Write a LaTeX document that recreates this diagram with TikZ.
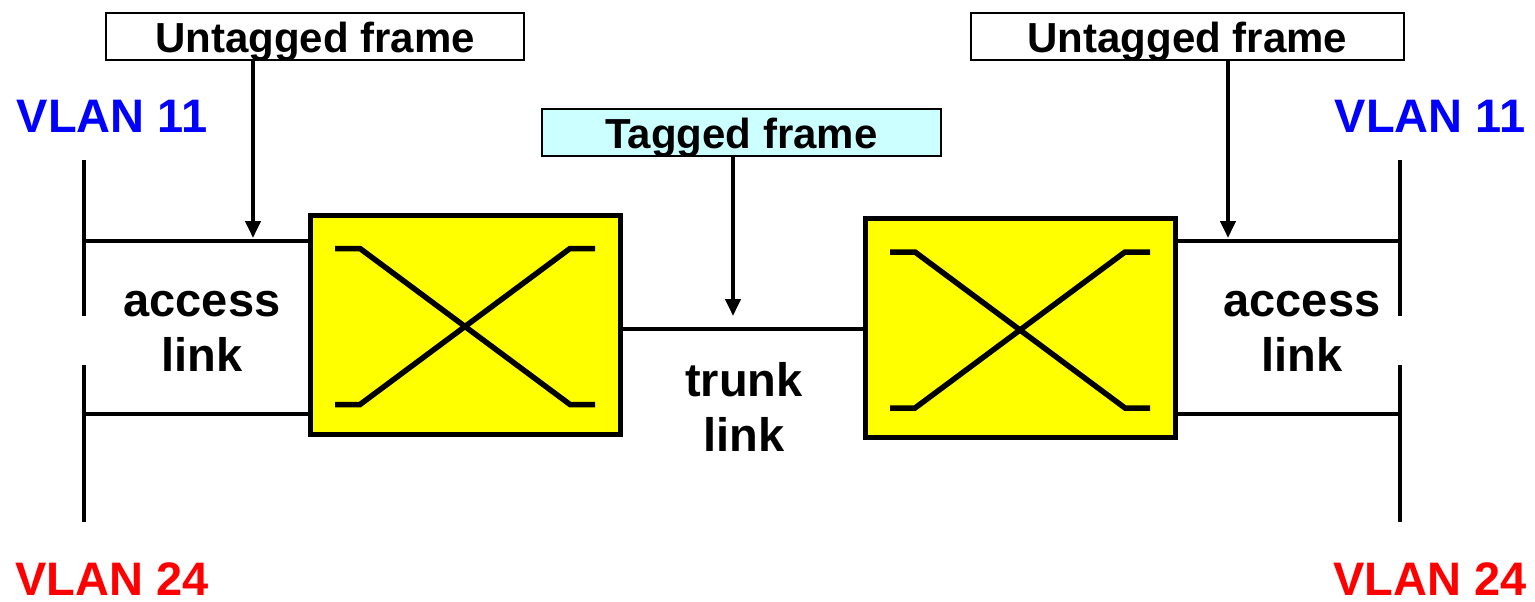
\documentclass[tikz,border=0pt]{standalone}
\usepackage{fontspec}
\setmainfont{Liberation Sans}
\usetikzlibrary{arrows.meta}
\definecolor{vblue}{RGB}{0,0,255}
\definecolor{vred}{RGB}{255,0,0}
\definecolor{swyellow}{RGB}{255,255,0}
\definecolor{tagcyan}{RGB}{204,255,255}
\tikzset{
  switchbox/.style={draw=black, line width=5pt, fill=swyellow, minimum width=310pt, minimum height=219pt, inner sep=0pt},
  xline/.style={line width=5.5pt, line join=miter},
  framebox/.style={draw=black, line width=2pt, minimum height=47pt, text height=40pt, text depth=7pt, inner sep=0pt, font=\fontsize{42}{46}\selectfont\bfseries},
  buswire/.style={line width=4.5pt},
  linkwire/.style={line width=4.5pt},
  arrowwire/.style={line width=4pt, -{Triangle[length=17pt,width=15pt]}},
  biglabel/.style={font=\fontsize{47}{55}\selectfont\bfseries, align=center, inner sep=0pt},
}
\newcommand{\drawX}[1]{%
  \draw[xline] ([shift={(-130,-76)}]#1.center) -- ([shift={(-105,-76)}]#1.center) -- ([shift={(105,80)}]#1.center) -- ([shift={(130,80)}]#1.center);
  \draw[xline] ([shift={(-130,80)}]#1.center) -- ([shift={(-105,80)}]#1.center) -- ([shift={(105,-76)}]#1.center) -- ([shift={(130,-76)}]#1.center);
}
\begin{document}
\begin{tikzpicture}[x=1pt,y=-1pt]
\useasboundingbox (0,0) rectangle (1535,602);
% switches
\node[switchbox] (sw1) at (465,324.5) {};
\node[switchbox] (sw2) at (1020,328) {};
\drawX{sw1}
\drawX{sw2}
% buses
\coordinate (LtopA) at (84,160);
\coordinate (LtopB) at (84,316);
\coordinate (LbotA) at (84,365);
\coordinate (LbotB) at (84,522);
\coordinate (RtopA) at (1400,160);
\coordinate (RtopB) at (1400,316);
\coordinate (RbotA) at (1400,365);
\coordinate (RbotB) at (1400,522);
\draw[buswire] (LtopA) -- (LtopB);
\draw[buswire] (LbotA) -- (LbotB);
\draw[buswire] (RtopA) -- (RtopB);
\draw[buswire] (RbotA) -- (RbotB);
% access links
\coordinate (la1) at (84,241);
\coordinate (la2) at (84,414);
\coordinate (ra1) at (1400,241);
\coordinate (ra2) at (1400,414);
\draw[linkwire] (la1) -- (la1 -| sw1.west);
\draw[linkwire] (la2) -- (la2 -| sw1.west);
\draw[linkwire] (ra1) -- (ra1 -| sw2.east);
\draw[linkwire] (ra2) -- (ra2 -| sw2.east);
% trunk
\coordinate (tr) at (742,329);
\draw[linkwire] (tr -| sw1.east) -- (tr -| sw2.west);
% frame labels
\node[framebox, minimum width=418pt] (uf1) at (315,36.5) {Untagged frame};
\node[framebox, minimum width=433pt] (uf2) at (1187.5,36.5) {Untagged frame};
\node[framebox, fill=tagcyan, minimum width=399pt] (tf) at (741.5,132) {Tagged frame};
\coordinate (a1) at (253,238);
\coordinate (a2) at (1228,238);
\coordinate (a3) at (733,316);
\draw[arrowwire] (uf1.south -| a1) -- (a1);
\draw[arrowwire] (uf2.south -| a2) -- (a2);
\draw[arrowwire] (tf.south -| a3) -- (a3);
% texts
\node[biglabel, text=vblue] (v11l) at (112,116.5) {VLAN 11};
\node[biglabel, text=vblue] (v11r) at (1430,116.5) {VLAN 11};
\node[biglabel, text=vred] (v24l) at (112,579) {VLAN 24};
\node[biglabel, text=vred] (v24r) at (1430,579) {VLAN 24};
\node[biglabel] (accl) at (202,331.5) {access\\link};
\node[biglabel] (accr) at (1302,331.5) {access\\link};
\node[biglabel] (trunk) at (744,407) {trunk\\link};
\end{tikzpicture}
\end{document}
